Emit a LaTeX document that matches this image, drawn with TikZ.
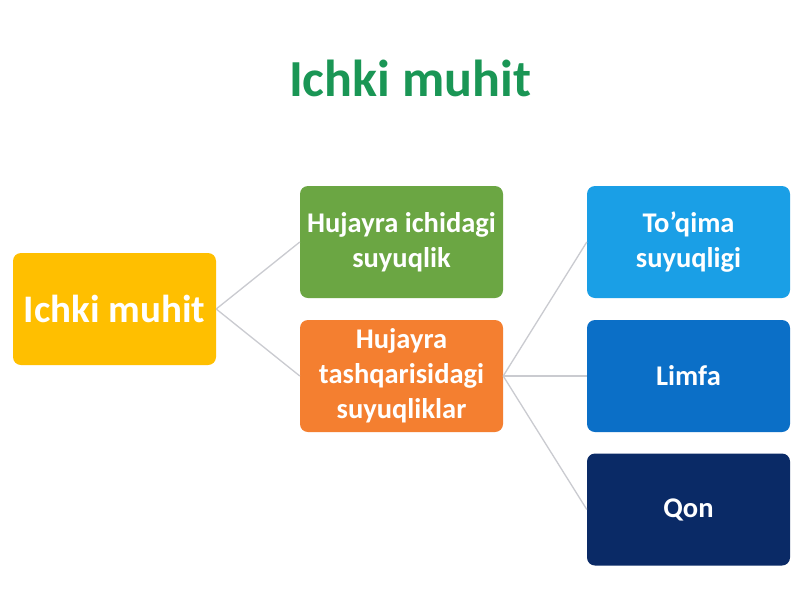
\documentclass[tikz,border=0pt]{standalone}
\usepackage{fontspec}
\setmainfont{Carlito}
\definecolor{titlegreen}{HTML}{1A9655}
\definecolor{cyellow}{HTML}{FFBF00}
\definecolor{cgreen}{HTML}{6BA643}
\definecolor{corange}{HTML}{F47F30}
\definecolor{clblue}{HTML}{1A9FE6}
\definecolor{cblue}{HTML}{0B6FC7}
\definecolor{cnavy}{HTML}{0A2A66}
\definecolor{linkgray}{HTML}{CACBD0}
\begin{document}
\begin{tikzpicture}[x=1pt,y=-1pt,
  box/.style={rounded corners=8pt, minimum width=203pt, minimum height=112pt,
    inner sep=0pt, align=center, text=white, font=\fontsize{28.5}{35}\selectfont\bfseries},
  link/.style={draw=linkgray, line width=1.3pt}]
\useasboundingbox[fill=white] (0,0) rectangle (800,600);
\node[text=titlegreen, font=\fontsize{52}{60}\selectfont\bfseries] (title) at (410,78) {Ichki muhit};
\node[box, fill=cyellow, font=\fontsize{39}{44}\selectfont\bfseries] (root) at (114.5,309) {Ichki muhit};
\node[box, fill=cgreen] (in) at (401.5,242) {Hujayra ichidagi\\suyuqlik};
\node[box, fill=corange] (out) at (401.5,376) {Hujayra\\tashqarisidagi\\suyuqliklar};
\node[box, fill=clblue] (tis) at (688.5,242) {To’qima\\suyuqligi};
\node[box, fill=cblue] (lim) at (688.5,376) {Limfa};
\node[box, fill=cnavy] (qon) at (688.5,509.5) {Qon};
\draw[link] (root.east) -- (in.west);
\draw[link] (root.east) -- (out.west);
\draw[link] (out.east) -- (tis.west);
\draw[link] (out.east) -- (lim.west);
\draw[link] (out.east) -- (qon.west);
\end{tikzpicture}
\end{document}
